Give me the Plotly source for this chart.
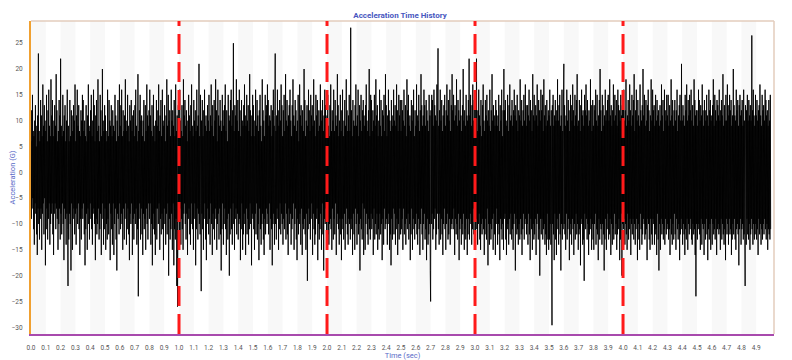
import plotly.graph_objects as go

# Acceleration samples (G), one list per half second (about 200 samples each)
accel_00_05 = [6,-9,12,-7,15,-5,8,-11,7,-14, 10,-6,13,-8,5,-12,9,-16,11,-7,
    23,-10,8,-13,6,-9,14,-7,11,-15, 7,-8,17,-6,9,-12,13,-5,10,-18,
    8,-11,15,-7,6,-13,12,-9,16,-6, 9,-14,7,-10,18,-8,11,-6,14,-12,
    7,-16,10,-8,13,-6,9,-11,19,-7, 12,-9,6,-15,8,-10,14,-7,11,-13,
    22,-8,9,-12,7,-6,15,-10,8,-17, 11,-7,13,-9,6,-14,10,-8,16,-11,
    -22,9,-13,6,-8,14,-10,7,-19,12, -6,11,-15,8,-9,13,-7,10,-12,17,
    -8,6,-14,11,-7,16,-10,9,-6,13, -11,8,-16,7,-9,12,-13,10,-7,15,
    -9,14,-6,8,-12,10,-18,7,-11,13, -8,6,-15,11,-7,17,-10,9,-13,8,
    -6,12,-9,15,-11,7,-14,10,-8,16, -7,13,-10,6,-17,11,-9,14,-12,8,
    -10,18,-7,9,-13,6,-11,15,-8,12, -16,7,-9,20,-6,10,-14,8,-11,13]
accel_05_10 = [-7,11,-15,8,-10,6,-13,16,-9,7, -12,14,-6,10,-17,9,-8,13,-11,7,
    -14,12,-6,9,-16,8,-10,15,-7,11, -13,6,-19,10,-8,14,-9,7,-12,17,
    -6,9,-11,13,-8,16,-10,7,-15,12, -7,8,-13,11,-9,18,-6,10,-14,8,
    -11,15,-7,9,-12,6,-17,13,-8,10, -10,14,-6,8,-16,11,-9,12,-13,7,
    -8,13,-10,16,-7,9,-14,6,-11,19, -24,8,-9,12,-6,15,-13,10,-7,11,
    -12,7,-16,10,-8,14,-11,6,-9,13, -15,8,-7,17,-10,11,-13,9,-6,12,
    -9,16,-6,11,-14,8,-10,13,-18,7, -11,15,-8,9,-12,6,-16,10,-7,14,
    -13,9,-7,12,-10,17,-6,8,-15,11, -9,14,-12,7,-8,16,-11,10,-17,9,
    -7,13,-10,6,-14,11,-8,18,-12,9, -6,15,-20,10,-9,12,-13,7,-11,16,
    -8,10,-15,12,-6,9,-18,14,-11,7, -13,17,-9,8,-22,11,-26,-12,13,-8]
accel_10_15 = [9,-12,16,-7,10,-14,8,-9,13,-11, 7,-15,18,-8,11,-6,14,-10,9,-13,
    12,-8,6,-16,10,-9,15,-7,11,-12, 8,-14,13,-6,17,-10,9,-11,7,-15,
    14,-9,10,-6,12,-18,8,-11,16,-7, 9,-13,11,-8,21,-10,7,-12,15,-6,
    -23,10,-8,14,-11,7,-15,12,-9,16, -6,9,-13,11,-17,8,-10,13,-7,10,
    -12,15,-9,8,-14,11,-6,17,-10,9, -16,13,-8,7,-11,14,-13,10,-7,18,
    -9,12,-15,6,-10,16,-8,11,-13,9, -7,14,-12,10,-19,8,-11,15,-6,12,
    -14,9,-10,13,-7,17,-11,8,-16,12, -9,6,-13,15,-8,11,-20,10,-12,14,
    -7,16,-11,9,-14,12,-6,25,-10,8, -15,13,-9,11,-7,18,-12,10,-8,14,
    -13,8,-10,16,-9,12,-17,7,-11,14, -6,10,-15,9,-12,13,-8,17,-10,11,
    -16,9,-7,15,-12,10,-9,13,-14,8, -11,19,-6,12,-10,7,-18,11,-8,15]
accel_15_20 = [-9,13,-11,7,-15,10,-8,16,-12,9, -6,14,-13,11,-10,8,-17,12,-7,15,
    -11,9,-14,6,-10,18,-8,12,-13,10, -16,7,-9,15,-12,11,-7,13,-10,17,
    -8,14,-12,9,-6,11,-15,10,-9,13, -11,7,-18,12,-10,16,-8,9,-14,11,
    23,-10,8,-13,11,-7,16,-9,12,-15, 9,-11,14,-6,10,-12,17,-8,13,-10,
    7,-14,12,-9,15,-11,8,-6,19,-13, 10,-8,14,-12,9,-16,11,-7,13,-10,
    16,-8,10,-14,7,-11,13,-9,18,-6, 11,-15,9,-10,14,-7,12,-13,8,-17,
    10,-9,15,-12,6,-10,17,-8,11,-14, 13,-7,9,-16,12,-10,8,-11,20,-9,
    14,-12,7,-15,10,-8,13,-21,9,-11, 16,-7,12,-10,8,-13,15,-9,11,-6,
    13,-16,9,-8,18,-11,10,-14,7,-12, 15,-9,11,-7,14,-17,8,-10,12,-13,
    9,-11,17,-8,12,-15,10,-6,14,-12, 8,-19,11,-9,16,-10,13,-7,10,-14]
accel_20_25 = [11,-8,15,-12,9,-14,7,-10,13,-9, 17,-11,8,-15,12,-7,10,-13,16,-9,
    8,-12,14,-6,11,-16,9,-10,19,-8, 13,-11,7,-14,10,-9,15,-12,8,-17,
    12,-9,16,-11,7,-13,10,-8,14,-15, 9,-10,18,-7,12,-12,8,-14,11,-9,
    15,-10,8,-13,28,-9,12,-11,7,-16, 14,-8,10,-12,9,-15,13,-7,17,-10,
    9,-14,11,-8,16,-12,7,-10,13,-19, 10,-9,15,-11,8,-13,12,-6,14,-16,
    11,-7,9,-15,13,-10,17,-8,10,-12, 8,-14,12,-9,20,-11,7,-13,15,-8,
    14,-11,8,-9,12,-16,10,-7,15,-13, 9,-10,18,-12,11,-8,13,-15,7,-11,
    10,-13,16,-8,9,-12,14,-10,7,-17, 12,-9,11,-14,15,-7,8,-11,19,-10,
    13,-9,7,-14,11,-10,16,-8,12,-15, 10,-12,8,-18,14,-9,11,-13,9,-7,
    16,-12,10,-8,13,-14,9,-11,17,-9, 12,-16,8,-10,15,-13,11,-7,14,-12]
accel_25_30 = [8,-11,14,-9,12,-15,10,-7,16,-12, 9,-10,13,-14,7,-9,18,-11,12,-8,
    15,-13,9,-10,11,-17,8,-12,14,-7, 10,-15,13,-9,16,-11,7,-13,12,-10,
    9,-8,17,-12,11,-14,10,-9,15,-11, 8,-16,12,-10,19,-7,13,-12,9,-15,
    11,-10,16,-8,13,-13,9,-11,14,-17, 12,-9,10,-14,8,-12,15,-10,11,-19,
    -25,12,-10,15,-8,14,-13,9,-11,16, -9,13,-7,11,-15,10,-12,17,-8,12,
    24,-11,9,-14,12,-8,16,-13,10,-9, 14,-12,8,-16,11,-10,13,-7,15,-11,
    9,-15,12,-10,17,-8,11,-13,14,-12, 10,-9,16,-14,8,-11,13,-10,19,-9,
    12,-11,15,-7,10,-16,13,-9,11,-12, 18,-10,9,-13,14,-8,12,-17,10,-11,
    16,-9,11,-14,8,-10,13,-12,20,-8, 10,-15,12,-11,9,-13,15,-9,11,-16,
    10,-12,14,-9,22,-13,11,-8,15,-10, 9,-14,13,-11,17,-7,10,-12,14,-9]
accel_30_35 = [10,-12,15,-9,22,-11,8,-14,12,-10, 16,-8,11,-13,9,-15,14,-10,7,-12,
    13,-9,17,-11,10,-16,8,-12,14,-9, 11,-13,15,-7,10,-18,12,-10,9,-14,
    16,-10,8,-13,12,-11,19,-9,10,-15, 13,-8,11,-12,9,-16,14,-10,12,-7,
    9,-14,11,-10,15,-12,8,-17,13,-9, 10,-11,16,-13,7,-10,12,-15,20,-9,
    12,-8,14,-13,10,-16,9,-11,15,-10, 8,-14,13,-9,17,-12,10,-8,11,-13,
    14,-11,9,-15,12,-10,16,-8,11,-19, 13,-9,10,-12,15,-11,8,-14,12,-10,
    11,-13,18,-9,10,-12,14,-16,9,-11, 12,-8,15,-13,10,-10,17,-9,13,-12,
    9,-10,13,-14,11,-8,16,-12,10,-17, 14,-9,12,-11,8,-15,19,-10,11,-13,
    15,-12,10,-9,13,-16,11,-10,17,-8, 9,-13,14,-11,12,-20,10,-9,16,-12,
    12,-9,15,-13,8,-11,18,-10,11,-14, 13,-12,9,-16,14,-8,10,-13,12,-15]
accel_35_40 = [11,-13,16,-10,9,-14,12,-11,-29.6,13, -10,15,-12,9,-17,11,-8,14,-13,10,
    -16,12,-9,18,-11,10,-14,13,-8,15, -12,9,-19,11,-10,16,-13,8,-11,14,
    21,-10,13,-12,9,-15,11,-8,16,-13, 10,-11,14,-9,12,-17,8,-12,15,-10,
    13,-14,10,-9,17,-11,12,-16,9,-10, 15,-13,11,-8,14,-12,19,-10,9,-15,
    10,-12,14,-11,8,-18,13,-9,16,-10, 11,-14,12,-13,9,-21,15,-8,12,-11,
    17,-9,11,-13,14,-10,9,-16,12,-12, 10,-11,18,-9,13,-15,8,-10,14,-13,
    9,-15,13,-10,12,-8,16,-14,10,-11, 15,-12,9,-17,11,-9,14,-13,20,-10,
    12,-11,8,-14,15,-10,13,-12,9,-19, 11,-13,16,-9,10,-15,12,-11,14,-8,
    15,-13,10,-12,18,-9,11,-16,13,-10, 9,-14,12,-11,17,-13,10,-8,15,-12,
    11,-10,14,-15,9,-12,16,-11,13,-9, 12,-17,10,-13,15,-8,11,-20,13,-10]
accel_40_45 = [13,-11,16,-9,10,-14,12,-10,18,-12, 9,-15,11,-8,14,-13,10,-11,17,-9,
    12,-16,9,-10,15,-12,11,-9,14,-13, 19,-10,8,-14,12,-11,16,-9,10,-17,
    14,-10,11,-13,9,-15,17,-8,12,-11, 10,-14,13,-12,20,-9,11,-10,15,-13,
    9,-12,14,-11,10,-17,13,-9,16,-10, 12,-13,8,-15,11,-9,18,-12,10,-14,
    16,-9,12,-10,13,-14,9,-12,15,-11, 10,-16,14,-8,11,-13,12,-19,9,-10,
    13,-15,10,-9,17,-12,11,-10,14,-13, 8,-11,16,-14,12,-9,10,-12,15,-11,
    11,-10,15,-13,9,-11,13,-16,10,-9, 18,-12,11,-14,14,-10,9,-13,12,-8,
    14,-12,10,-15,12,-9,16,-11,8,-13, 11,-10,13,-17,15,-12,10,-9,21,-11,
    10,-14,13,-10,11,-12,9,-16,15,-11, 12,-13,17,-9,10,-15,14,-10,11,-12,
    15,-11,12,-9,16,-13,10,-14,13,-10, 9,-12,18,-11,14,-16,11,-24,12,-10]
accel_45_50 = [12,-13,9,-11,16,-10,14,-12,10,-15, 13,-9,11,-14,17,-10,12,-11,9,-16,
    14,-10,12,-13,10,-9,15,-12,11,-17, 9,-11,16,-13,12,-10,14,-15,10,-9,
    11,-14,13,-10,18,-12,9,-11,15,-13, 12,-9,10,-16,14,-11,13,-10,11,-12,
    16,-11,10,-15,12,-9,14,-13,11,-10, 19,-12,9,-14,13,-11,10,-17,15,-9,
    10,-12,17,-10,13,-14,11,-9,15,-12, 12,-11,14,-16,9,-13,11,-10,20,-12,
    13,-9,11,-13,10,-15,16,-11,12,-10, 14,-12,9,-18,13,-11,15,-9,11,-14,
    12,-11,14,-10,9,-13,16,-12,10,-11, -22,13,11,-14,12,-9,15,-12,10,-13,
    14,-10,11,-15,13,-12,10,-9,26.5,-11, 12,-14,16,-10,11,-13,9,-12,15,-10,
    11,-13,14,-11,10,-16,12,-9,13,-12, 17,-10,11,-14,9,-11,15,-13,12,-10,
    13,-12,10,-9,16,-11,14,-13,11,-10, 12,-15,9,-11,14,-12,10,-13,15,-11]

segments = [accel_00_05, accel_05_10, accel_10_15, accel_15_20, accel_20_25,
            accel_25_30, accel_30_35, accel_35_40, accel_40_45, accel_45_50]
segment_length_s = 0.5
marker_times = [1.0, 2.0, 3.0, 4.0]
x_tick_vals = [round(i * 0.1, 1) for i in range(50)]
x_tick_text = [f"{v:.1f}" for v in x_tick_vals]
y_tick_vals = [-30, -25, -20, -15, -10, -5, 0, 5, 10, 15, 20, 25]

time, accel = [], []
for k, seg in enumerate(segments):
    n = len(seg)
    for i, v in enumerate(seg):
        time.append(k * segment_length_s + i * segment_length_s / n)
        accel.append(v)

fig = go.Figure()
fig.add_trace(go.Scatter(x=time, y=accel, mode="lines",
                         line=dict(color="black", width=0.9, simplify=False),
                         hoverinfo="skip", showlegend=False))

shapes = []
# alternating background bands every 0.1 s
for i in range(0, 50, 2):
    shapes.append(dict(type="rect", xref="x", yref="paper",
                       x0=i * 0.1, x1=(i + 1) * 0.1, y0=0, y1=1,
                       fillcolor="#f8f8f8", line=dict(width=0), layer="below"))
# top and right border
shapes.append(dict(type="line", xref="paper", yref="paper", x0=0, x1=1, y0=1, y1=1,
                   line=dict(color="#e3cdbd", width=1.5)))
shapes.append(dict(type="line", xref="paper", yref="paper", x0=1, x1=1, y0=0, y1=1,
                   line=dict(color="#e3cdbd", width=1.5)))
# red dashed markers
for t in marker_times:
    shapes.append(dict(type="line", xref="x", yref="paper", x0=t, x1=t, y0=0, y1=1,
                       line=dict(color="#ff1a1a", width=3, dash="20px,8px"),
                       layer="above"))

fig.update_layout(
    width=784, height=352,
    margin=dict(l=23, r=18, t=13, b=26),
    paper_bgcolor="white", plot_bgcolor="white",
    font=dict(family="Roboto, Arial, sans-serif", size=7, color="#555555"),
    title=dict(text="<b>Acceleration Time History</b>", x=0.5, xanchor="center",
               y=0.98, yanchor="middle",
               font=dict(size=8, color="#4757c0")),
    shapes=shapes,
    showlegend=False,
)
fig.update_xaxes(range=[0, 5.02], tickvals=x_tick_vals, ticktext=x_tick_text,
                 showgrid=False, zeroline=False, showline=True, automargin=False,
                 linecolor="#a84aad", linewidth=2, ticks="", ticklabelstandoff=6,
                 tickfont=dict(size=6.5, color="#555555"),
                 title=dict(text="Time (sec)", standoff=1,
                            font=dict(size=7.5, color="#5a6cc8")))
fig.update_yaxes(range=[-31.3, 29.3], tickvals=y_tick_vals,
                 showgrid=False, zeroline=False, showline=True, automargin=False,
                 linecolor="#f0a030", linewidth=2, ticks="", ticklabelstandoff=5,
                 tickfont=dict(size=6.5, color="#555555"),
                 title=dict(text="Acceleration (G)", standoff=2,
                            font=dict(size=7.5, color="#5a6cc8")))

fig.write_html("out.html")
